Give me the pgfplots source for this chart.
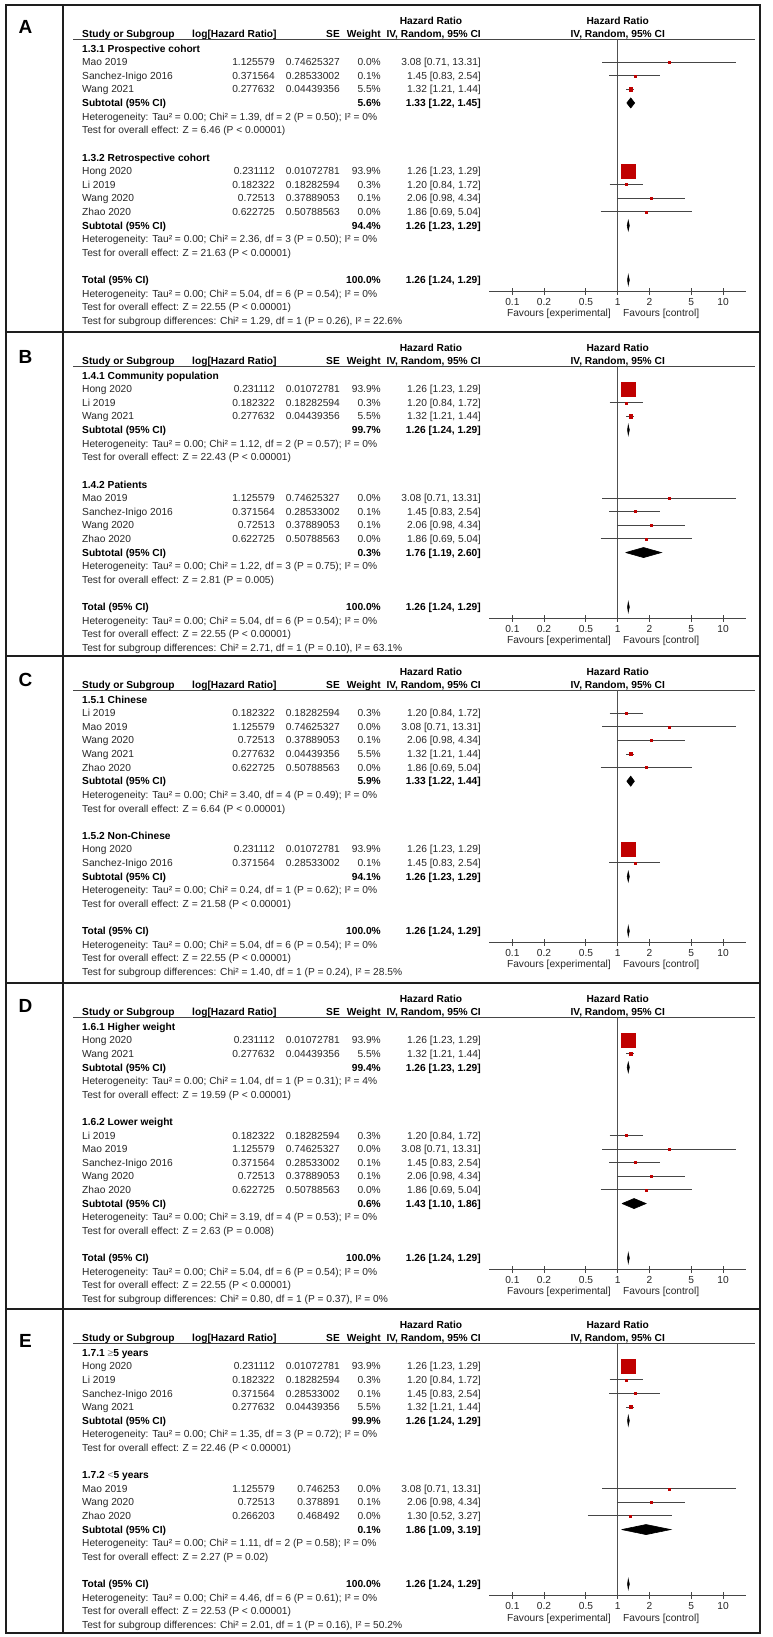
\documentclass[border=0pt]{standalone}
\usepackage{pgfplots}
\pgfplotsset{compat=1.18}
\usepackage{fontspec}
\setmainfont{Liberation Sans}
\definecolor{srred}{RGB}{192,0,0}
\definecolor{txt}{RGB}{40,40,40}
\definecolor{axg}{RGB}{70,70,70}
\definecolor{refln}{RGB}{80,80,80}
\definecolor{frm}{RGB}{30,30,30}
\newcommand\fs{\fontsize{10.2}{12}\selectfont}
\def\py{5}
\newcommand\BY[1]{1637-\py-47.15-13.62*(#1)}
\newcommand\Trow[2]{\node[anchor=base west] at (82,{\BY{#1}}) {#2};}
\newcommand\Grp[2]{\node[anchor=base west,font=\fs\bfseries,text=black] at (82,{\BY{#1}}) {#2};}
\newcommand\Srow[6]{%
  \node[anchor=base west] at (82,{\BY{#1}}) {#2};
  \node[anchor=base east] at (275,{\BY{#1}}) {#3};
  \node[anchor=base east] at (340,{\BY{#1}}) {#4};
  \node[anchor=base east] at (381,{\BY{#1}}) {#5};
  \node[anchor=base east] at (481,{\BY{#1}}) {#6};}
\newcommand\Sub[4]{%
  \node[anchor=base west,font=\fs\bfseries,text=black] at (82,{\BY{#1}}) {#2};
  \node[anchor=base east,font=\fs\bfseries,text=black] at (381,{\BY{#1}}) {#3};
  \node[anchor=base east,font=\fs\bfseries,text=black] at (481,{\BY{#1}}) {#4};}
\newcommand\Head[2]{%
  \node[font=\fontsize{19}{22}\selectfont\bfseries,text=black] at (25.5,{1637-\py-#2}) {#1};
  \node[anchor=base,font=\fs\bfseries,text=black] at (431,{1637-\py-19.6}) {Hazard Ratio};
  \node[anchor=base,font=\fs\bfseries,text=black] at (617.7,{1637-\py-19.6}) {Hazard Ratio};
  \node[anchor=base west,font=\fs\bfseries,text=black] at (82,{1637-\py-32.2}) {Study or Subgroup};
  \node[anchor=base west,font=\fs\bfseries,text=black] at (192,{1637-\py-32.2}) {log[Hazard Ratio]};
  \node[anchor=base east,font=\fs\bfseries,text=black] at (340,{1637-\py-32.2}) {SE};
  \node[anchor=base east,font=\fs\bfseries,text=black] at (381,{1637-\py-32.2}) {Weight};
  \node[anchor=base east,font=\fs\bfseries,text=black] at (481,{1637-\py-32.2}) {IV, Random, 95\% CI};
  \node[anchor=base,font=\fs\bfseries,text=black] at (617.7,{1637-\py-32.2}) {IV, Random, 95\% CI};
  \draw[axg,line width=1.2pt] (73,{1637-\py-34.5}) -- (755,{1637-\py-34.5});
  \node[anchor=base east] at (611,{1637-\py-312}) {Favours [experimental]};
  \node[anchor=base west] at (623,{1637-\py-312}) {Favours [control]};
  \pgfmathsetmacro\axy{1350.5-\py}
}
\tikzset{
  fpci/.style={draw=axg, line width=0.9pt},
  fpdia/.style={fill=black, draw=black, line width=0.6pt},
  fpvl/.style={draw=refln, line width=1.1pt},
}
\newcommand\FAX{\begin{axis}[
  at={(489pt,\axy pt)}, anchor=south west,
  width=257.4pt, height=252pt, scale only axis,
  xmode=log, xmin=0.06, xmax=16.67, ymin=-17.841, ymax=0.661,
  axis x line*=bottom, axis y line=none,
  x axis line style={draw=axg, line width=1.3pt},
  xtick={0.1,0.2,0.5,1,2,5,10}, xticklabels={0.1,0.2,0.5,1,2,5,10},
  xminorticks=false, ytick=\empty,
  tick align=center, major tick length=7pt,
  every tick/.append style={draw=axg, line width=1pt},
  xticklabel style={font=\fs, text=txt, inner sep=0pt, yshift=-3pt},
  clip=false, unbounded coords=jump]}
\newcommand\VL{\draw[fpvl] (axis cs:1,-17.841) -- (axis cs:1,0.661);}
\newcommand\DOTS[1]{\addplot[only marks, mark=square*, mark size=1pt, color=srred] coordinates {#1};}
\newcommand\WDOT[1]{\addplot[only marks, mark=square*, mark size=1.7pt, color=srred] coordinates {#1};}
\newcommand\BIG[1]{\addplot[only marks, mark=square*, mark size=7pt, color=srred] coordinates {#1};}
\begin{document}
\begin{tikzpicture}[x=1pt,y=1pt,font=\fs,every node/.style={inner sep=0pt,text=txt}]
\path[use as bounding box] (0,0) rectangle (772,1637);
\fill[white] (0,0) rectangle (772,1637);
\draw[frm,line width=1.5pt] (6,1632) rectangle (760,4);
\draw[frm,line width=1.5pt] (63,1632) -- (63,4);
\foreach \yy in {332,656,983,1309} {\draw[frm,line width=1.5pt] (6,{1637-\yy}) -- (760,{1637-\yy});}

% ===== Panel A =====
\def\py{5}
\Head{A}{21.5}
\Grp{0}{1.3.1 Prospective cohort}
\Srow{1}{Mao 2019}{1.125579}{0.74625327}{0.0\%}{3.08 [0.71, 13.31]}
\Srow{2}{Sanchez-Inigo 2016}{0.371564}{0.28533002}{0.1\%}{1.45 [0.83, 2.54]}
\Srow{3}{Wang 2021}{0.277632}{0.04439356}{5.5\%}{1.32 [1.21, 1.44]}
\Sub{4}{Subtotal (95\% CI)}{5.6\%}{1.33 [1.22, 1.45]}
\Trow{5}{Heterogeneity: Tau² = 0.00; Chi² = 1.39, df = 2 (P = 0.50); I² = 0\%}
\Trow{6}{Test for overall effect: Z = 6.46 (P < 0.00001)}
\Grp{8}{1.3.2 Retrospective cohort}
\Srow{9}{Hong 2020}{0.231112}{0.01072781}{93.9\%}{1.26 [1.23, 1.29]}
\Srow{10}{Li 2019}{0.182322}{0.18282594}{0.3\%}{1.20 [0.84, 1.72]}
\Srow{11}{Wang 2020}{0.72513}{0.37889053}{0.1\%}{2.06 [0.98, 4.34]}
\Srow{12}{Zhao 2020}{0.622725}{0.50788563}{0.0\%}{1.86 [0.69, 5.04]}
\Sub{13}{Subtotal (95\% CI)}{94.4\%}{1.26 [1.23, 1.29]}
\Trow{14}{Heterogeneity: Tau² = 0.00; Chi² = 2.36, df = 3 (P = 0.50); I² = 0\%}
\Trow{15}{Test for overall effect: Z = 21.63 (P < 0.00001)}
\Sub{17}{Total (95\% CI)}{100.0\%}{1.26 [1.24, 1.29]}
\Trow{18}{Heterogeneity: Tau² = 0.00; Chi² = 5.04, df = 6 (P = 0.54); I² = 0\%}
\Trow{19}{Test for overall effect: Z = 22.55 (P < 0.00001)}
\Trow{20}{Test for subgroup differences: Chi² = 1.29, df = 1 (P = 0.26), I² = 22.6\%}
\FAX
\VL
\addplot[fpci] table {
x y
0.71 -1
13.31 -1
nan nan
0.83 -2
2.54 -2
nan nan
1.21 -3
1.44 -3
nan nan
1.23 -9
1.29 -9
nan nan
0.84 -10
1.72 -10
nan nan
0.98 -11
4.34 -11
nan nan
0.69 -12
5.04 -12
};
\DOTS{(3.08,-1) (1.45,-2) (1.20,-10) (2.06,-11) (1.86,-12)}
\WDOT{(1.32,-3)}
\BIG{(1.26,-9)}
\addplot[fpdia] coordinates {(1.22,-4) (1.33,-3.63) (1.45,-4) (1.33,-4.37) (1.22,-4)};
\addplot[fpdia] coordinates {(1.23,-13) (1.26,-12.63) (1.29,-13) (1.26,-13.37) (1.23,-13)};
\addplot[fpdia] coordinates {(1.24,-17) (1.26,-16.63) (1.29,-17) (1.26,-17.37) (1.24,-17)};
\end{axis}

% ===== Panel B =====
\def\py{332}
\Head{B}{24.5}
\Grp{0}{1.4.1 Community population}
\Srow{1}{Hong 2020}{0.231112}{0.01072781}{93.9\%}{1.26 [1.23, 1.29]}
\Srow{2}{Li 2019}{0.182322}{0.18282594}{0.3\%}{1.20 [0.84, 1.72]}
\Srow{3}{Wang 2021}{0.277632}{0.04439356}{5.5\%}{1.32 [1.21, 1.44]}
\Sub{4}{Subtotal (95\% CI)}{99.7\%}{1.26 [1.24, 1.29]}
\Trow{5}{Heterogeneity: Tau² = 0.00; Chi² = 1.12, df = 2 (P = 0.57); I² = 0\%}
\Trow{6}{Test for overall effect: Z = 22.43 (P < 0.00001)}
\Grp{8}{1.4.2 Patients}
\Srow{9}{Mao 2019}{1.125579}{0.74625327}{0.0\%}{3.08 [0.71, 13.31]}
\Srow{10}{Sanchez-Inigo 2016}{0.371564}{0.28533002}{0.1\%}{1.45 [0.83, 2.54]}
\Srow{11}{Wang 2020}{0.72513}{0.37889053}{0.1\%}{2.06 [0.98, 4.34]}
\Srow{12}{Zhao 2020}{0.622725}{0.50788563}{0.0\%}{1.86 [0.69, 5.04]}
\Sub{13}{Subtotal (95\% CI)}{0.3\%}{1.76 [1.19, 2.60]}
\Trow{14}{Heterogeneity: Tau² = 0.00; Chi² = 1.22, df = 3 (P = 0.75); I² = 0\%}
\Trow{15}{Test for overall effect: Z = 2.81 (P = 0.005)}
\Sub{17}{Total (95\% CI)}{100.0\%}{1.26 [1.24, 1.29]}
\Trow{18}{Heterogeneity: Tau² = 0.00; Chi² = 5.04, df = 6 (P = 0.54); I² = 0\%}
\Trow{19}{Test for overall effect: Z = 22.55 (P < 0.00001)}
\Trow{20}{Test for subgroup differences: Chi² = 2.71, df = 1 (P = 0.10), I² = 63.1\%}
\FAX
\VL
\addplot[fpci] table {
x y
1.23 -1
1.29 -1
nan nan
0.84 -2
1.72 -2
nan nan
1.21 -3
1.44 -3
nan nan
0.71 -9
13.31 -9
nan nan
0.83 -10
2.54 -10
nan nan
0.98 -11
4.34 -11
nan nan
0.69 -12
5.04 -12
};
\DOTS{(1.20,-2) (3.08,-9) (1.45,-10) (2.06,-11) (1.86,-12)}
\WDOT{(1.32,-3)}
\BIG{(1.26,-1)}
\addplot[fpdia] coordinates {(1.24,-4) (1.26,-3.63) (1.29,-4) (1.26,-4.37) (1.24,-4)};
\addplot[fpdia] coordinates {(1.19,-13) (1.76,-12.63) (2.60,-13) (1.76,-13.37) (1.19,-13)};
\addplot[fpdia] coordinates {(1.24,-17) (1.26,-16.63) (1.29,-17) (1.26,-17.37) (1.24,-17)};
\end{axis}

% ===== Panel C =====
\def\py{656}
\Head{C}{24}
\Grp{0}{1.5.1 Chinese}
\Srow{1}{Li 2019}{0.182322}{0.18282594}{0.3\%}{1.20 [0.84, 1.72]}
\Srow{2}{Mao 2019}{1.125579}{0.74625327}{0.0\%}{3.08 [0.71, 13.31]}
\Srow{3}{Wang 2020}{0.72513}{0.37889053}{0.1\%}{2.06 [0.98, 4.34]}
\Srow{4}{Wang 2021}{0.277632}{0.04439356}{5.5\%}{1.32 [1.21, 1.44]}
\Srow{5}{Zhao 2020}{0.622725}{0.50788563}{0.0\%}{1.86 [0.69, 5.04]}
\Sub{6}{Subtotal (95\% CI)}{5.9\%}{1.33 [1.22, 1.44]}
\Trow{7}{Heterogeneity: Tau² = 0.00; Chi² = 3.40, df = 4 (P = 0.49); I² = 0\%}
\Trow{8}{Test for overall effect: Z = 6.64 (P < 0.00001)}
\Grp{10}{1.5.2 Non-Chinese}
\Srow{11}{Hong 2020}{0.231112}{0.01072781}{93.9\%}{1.26 [1.23, 1.29]}
\Srow{12}{Sanchez-Inigo 2016}{0.371564}{0.28533002}{0.1\%}{1.45 [0.83, 2.54]}
\Sub{13}{Subtotal (95\% CI)}{94.1\%}{1.26 [1.23, 1.29]}
\Trow{14}{Heterogeneity: Tau² = 0.00; Chi² = 0.24, df = 1 (P = 0.62); I² = 0\%}
\Trow{15}{Test for overall effect: Z = 21.58 (P < 0.00001)}
\Sub{17}{Total (95\% CI)}{100.0\%}{1.26 [1.24, 1.29]}
\Trow{18}{Heterogeneity: Tau² = 0.00; Chi² = 5.04, df = 6 (P = 0.54); I² = 0\%}
\Trow{19}{Test for overall effect: Z = 22.55 (P < 0.00001)}
\Trow{20}{Test for subgroup differences: Chi² = 1.40, df = 1 (P = 0.24), I² = 28.5\%}
\FAX
\VL
\addplot[fpci] table {
x y
0.84 -1
1.72 -1
nan nan
0.71 -2
13.31 -2
nan nan
0.98 -3
4.34 -3
nan nan
1.21 -4
1.44 -4
nan nan
0.69 -5
5.04 -5
nan nan
1.23 -11
1.29 -11
nan nan
0.83 -12
2.54 -12
};
\DOTS{(1.20,-1) (3.08,-2) (2.06,-3) (1.86,-5) (1.45,-12)}
\WDOT{(1.32,-4)}
\BIG{(1.26,-11)}
\addplot[fpdia] coordinates {(1.22,-6) (1.33,-5.63) (1.44,-6) (1.33,-6.37) (1.22,-6)};
\addplot[fpdia] coordinates {(1.23,-13) (1.26,-12.63) (1.29,-13) (1.26,-13.37) (1.23,-13)};
\addplot[fpdia] coordinates {(1.24,-17) (1.26,-16.63) (1.29,-17) (1.26,-17.37) (1.24,-17)};
\end{axis}

% ===== Panel D =====
\def\py{983}
\Head{D}{23}
\Grp{0}{1.6.1 Higher weight}
\Srow{1}{Hong 2020}{0.231112}{0.01072781}{93.9\%}{1.26 [1.23, 1.29]}
\Srow{2}{Wang 2021}{0.277632}{0.04439356}{5.5\%}{1.32 [1.21, 1.44]}
\Sub{3}{Subtotal (95\% CI)}{99.4\%}{1.26 [1.23, 1.29]}
\Trow{4}{Heterogeneity: Tau² = 0.00; Chi² = 1.04, df = 1 (P = 0.31); I² = 4\%}
\Trow{5}{Test for overall effect: Z = 19.59 (P < 0.00001)}
\Grp{7}{1.6.2 Lower weight}
\Srow{8}{Li 2019}{0.182322}{0.18282594}{0.3\%}{1.20 [0.84, 1.72]}
\Srow{9}{Mao 2019}{1.125579}{0.74625327}{0.0\%}{3.08 [0.71, 13.31]}
\Srow{10}{Sanchez-Inigo 2016}{0.371564}{0.28533002}{0.1\%}{1.45 [0.83, 2.54]}
\Srow{11}{Wang 2020}{0.72513}{0.37889053}{0.1\%}{2.06 [0.98, 4.34]}
\Srow{12}{Zhao 2020}{0.622725}{0.50788563}{0.0\%}{1.86 [0.69, 5.04]}
\Sub{13}{Subtotal (95\% CI)}{0.6\%}{1.43 [1.10, 1.86]}
\Trow{14}{Heterogeneity: Tau² = 0.00; Chi² = 3.19, df = 4 (P = 0.53); I² = 0\%}
\Trow{15}{Test for overall effect: Z = 2.63 (P = 0.008)}
\Sub{17}{Total (95\% CI)}{100.0\%}{1.26 [1.24, 1.29]}
\Trow{18}{Heterogeneity: Tau² = 0.00; Chi² = 5.04, df = 6 (P = 0.54); I² = 0\%}
\Trow{19}{Test for overall effect: Z = 22.55 (P < 0.00001)}
\Trow{20}{Test for subgroup differences: Chi² = 0.80, df = 1 (P = 0.37), I² = 0\%}
\FAX
\VL
\addplot[fpci] table {
x y
1.23 -1
1.29 -1
nan nan
1.21 -2
1.44 -2
nan nan
0.84 -8
1.72 -8
nan nan
0.71 -9
13.31 -9
nan nan
0.83 -10
2.54 -10
nan nan
0.98 -11
4.34 -11
nan nan
0.69 -12
5.04 -12
};
\DOTS{(1.20,-8) (3.08,-9) (1.45,-10) (2.06,-11) (1.86,-12)}
\WDOT{(1.32,-2)}
\BIG{(1.26,-1)}
\addplot[fpdia] coordinates {(1.23,-3) (1.26,-2.63) (1.29,-3) (1.26,-3.37) (1.23,-3)};
\addplot[fpdia] coordinates {(1.10,-13) (1.43,-12.63) (1.86,-13) (1.43,-13.37) (1.10,-13)};
\addplot[fpdia] coordinates {(1.24,-17) (1.26,-16.63) (1.29,-17) (1.26,-17.37) (1.24,-17)};
\end{axis}

% ===== Panel E =====
\def\py{1309}
\Head{E}{31.5}
\Grp{0}{1.7.1 {\mdseries\color{gray}≥}5 years}
\Srow{1}{Hong 2020}{0.231112}{0.01072781}{93.9\%}{1.26 [1.23, 1.29]}
\Srow{2}{Li 2019}{0.182322}{0.18282594}{0.3\%}{1.20 [0.84, 1.72]}
\Srow{3}{Sanchez-Inigo 2016}{0.371564}{0.28533002}{0.1\%}{1.45 [0.83, 2.54]}
\Srow{4}{Wang 2021}{0.277632}{0.04439356}{5.5\%}{1.32 [1.21, 1.44]}
\Sub{5}{Subtotal (95\% CI)}{99.9\%}{1.26 [1.24, 1.29]}
\Trow{6}{Heterogeneity: Tau² = 0.00; Chi² = 1.35, df = 3 (P = 0.72); I² = 0\%}
\Trow{7}{Test for overall effect: Z = 22.46 (P < 0.00001)}
\Grp{9}{1.7.2 {\mdseries\color{gray}<}5 years}
\Srow{10}{Mao 2019}{1.125579}{0.746253}{0.0\%}{3.08 [0.71, 13.31]}
\Srow{11}{Wang 2020}{0.72513}{0.378891}{0.1\%}{2.06 [0.98, 4.34]}
\Srow{12}{Zhao 2020}{0.266203}{0.468492}{0.0\%}{1.30 [0.52, 3.27]}
\Sub{13}{Subtotal (95\% CI)}{0.1\%}{1.86 [1.09, 3.19]}
\Trow{14}{Heterogeneity: Tau² = 0.00; Chi² = 1.11, df = 2 (P = 0.58); I² = 0\%}
\Trow{15}{Test for overall effect: Z = 2.27 (P = 0.02)}
\Sub{17}{Total (95\% CI)}{100.0\%}{1.26 [1.24, 1.29]}
\Trow{18}{Heterogeneity: Tau² = 0.00; Chi² = 4.46, df = 6 (P = 0.61); I² = 0\%}
\Trow{19}{Test for overall effect: Z = 22.53 (P < 0.00001)}
\Trow{20}{Test for subgroup differences: Chi² = 2.01, df = 1 (P = 0.16), I² = 50.2\%}
\FAX
\VL
\addplot[fpci] table {
x y
1.23 -1
1.29 -1
nan nan
0.84 -2
1.72 -2
nan nan
0.83 -3
2.54 -3
nan nan
1.21 -4
1.44 -4
nan nan
0.71 -10
13.31 -10
nan nan
0.98 -11
4.34 -11
nan nan
0.52 -12
3.27 -12
};
\DOTS{(1.20,-2) (1.45,-3) (3.08,-10) (2.06,-11) (1.30,-12)}
\WDOT{(1.32,-4)}
\BIG{(1.26,-1)}
\addplot[fpdia] coordinates {(1.24,-5) (1.26,-4.63) (1.29,-5) (1.26,-5.37) (1.24,-5)};
\addplot[fpdia] coordinates {(1.09,-13) (1.86,-12.63) (3.19,-13) (1.86,-13.37) (1.09,-13)};
\addplot[fpdia] coordinates {(1.24,-17) (1.26,-16.63) (1.29,-17) (1.26,-17.37) (1.24,-17)};
\end{axis}
\end{tikzpicture}
\end{document}
